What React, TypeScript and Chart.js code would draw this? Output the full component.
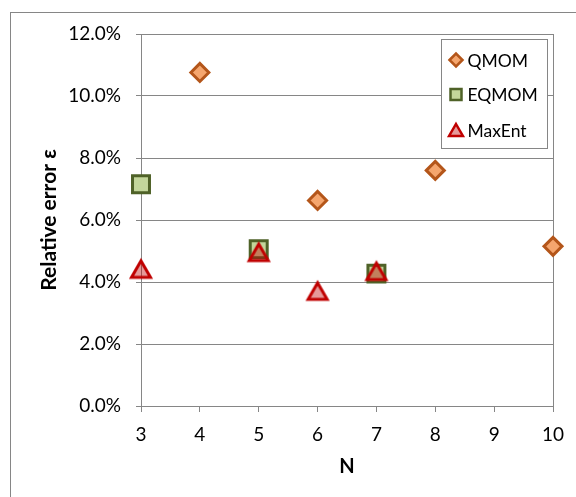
import React, { useEffect, useRef } from 'react';
import { Chart, registerables } from 'chart.js';

Chart.register(...registerables);

// ---- data ----
const seriesNames = ['QMOM', 'EQMOM', 'MaxEnt'];
const qmomN = [4, 6, 8, 10];
const qmomErr = [10.76, 6.63, 7.6, 5.15];
const eqmomN = [3, 5, 7];
const eqmomErr = [7.15, 5.06, 4.27];
const maxentN = [3, 5, 6, 7];
const maxentErr = [4.44, 4.98, 3.73, 4.37];
const xTickValues = [3, 4, 5, 6, 7, 8, 9, 10];
const yTickValues = [0, 2, 4, 6, 8, 10, 12];
const xTitle = 'N';
const yTitle = 'Relative error ε';

const GRID = '#868686';
const FONT = 'Lato';

const styles = [
  { pointStyle: 'rectRot', radius: 9, bg: '#F5A66E', border: '#B4561A' },
  { pointStyle: 'rect', radius: 12, bg: '#C3D69B', border: '#4F6228' },
  { pointStyle: 'triangle', radius: 11, bg: 'rgba(192,0,0,0.4)', border: '#C00000' },
];

function toPoints(xs: number[], ys: number[]) {
  return xs.map((x, i) => ({ x, y: ys[i] }));
}

function makeTriangle(bg: string, border: string): HTMLCanvasElement {
  const c = document.createElement('canvas');
  c.width = 26;
  c.height = 26;
  const g = c.getContext('2d')!;
  g.beginPath();
  g.moveTo(13, 5.5);
  g.lineTo(22.5, 22);
  g.lineTo(3.5, 22);
  g.closePath();
  g.fillStyle = bg;
  g.fill();
  g.lineWidth = 3;
  g.lineJoin = 'miter';
  g.strokeStyle = border;
  g.stroke();
  return c;
}

function drawSymbol(ctx: CanvasRenderingContext2D, kind: string, cx: number, cy: number, s: number) {
  ctx.beginPath();
  if (kind === 'rectRot') {
    ctx.moveTo(cx - s, cy);
    ctx.lineTo(cx, cy - s);
    ctx.lineTo(cx + s, cy);
    ctx.lineTo(cx, cy + s);
  } else if (kind === 'rect') {
    ctx.rect(cx - s, cy - s, 2 * s, 2 * s);
  } else {
    const h = s * 1.5;
    const top = cy - h / 2;
    ctx.moveTo(cx, top);
    ctx.lineTo(cx + s * 0.866, top + h);
    ctx.lineTo(cx - s * 0.866, top + h);
  }
  ctx.closePath();
  ctx.fill();
  ctx.stroke();
}

const framePlugin = {
  id: 'frame',
  beforeDraw(chart: any) {
    const ctx = chart.ctx;
    ctx.save();
    ctx.fillStyle = '#ffffff';
    ctx.fillRect(0, 0, chart.width, chart.height);
    ctx.strokeStyle = GRID;
    ctx.lineWidth = 1;
    ctx.strokeRect(10.5, 12.5, chart.width + 20, chart.height + 20);
    ctx.restore();
  },
  beforeDatasetsDraw(chart: any) {
    const { ctx, chartArea } = chart;
    ctx.save();
    ctx.strokeStyle = GRID;
    ctx.lineWidth = 1;
    ctx.strokeRect(chartArea.left + 0.5, chartArea.top + 0.5, chartArea.right - chartArea.left, chartArea.bottom - chartArea.top);
    ctx.restore();
  },
  afterDatasetsDraw(chart: any) {
    const ctx = chart.ctx;
    ctx.save();
    const bx = 441.5, by = 39.5, bw = 106, bh = 109;
    ctx.fillStyle = '#ffffff';
    ctx.fillRect(bx, by, bw, bh);
    ctx.strokeStyle = GRID;
    ctx.lineWidth = 1;
    ctx.strokeRect(bx, by, bw, bh);
    const rows = [60, 94.5, 130];
    chart.data.datasets.forEach((ds: any, i: number) => {
      const st = styles[i];
      ctx.fillStyle = st.bg;
      ctx.strokeStyle = st.border;
      ctx.lineWidth = 2.5;
      ctx.lineJoin = 'miter';
      const size = st.pointStyle === 'rectRot' ? 6.5 : st.pointStyle === 'rect' ? 5.5 : 8;
      drawSymbol(ctx, st.pointStyle, 456, rows[i], size);
      ctx.fillStyle = '#000000';
      ctx.font = `17.5px ${FONT}`;
      ctx.textBaseline = 'middle';
      ctx.textAlign = 'left';
      ctx.fillText(ds.label, 467.5, rows[i] + 1);
    });
    ctx.restore();
  },
};

export default function App() {
  const ref = useRef<HTMLCanvasElement>(null);

  useEffect(() => {
    if (!ref.current) return;
    const datasets = [
      toPoints(qmomN, qmomErr),
      toPoints(eqmomN, eqmomErr),
      toPoints(maxentN, maxentErr),
    ].map((data, i) => ({
      label: seriesNames[i],
      data,
      order: 3 - i,
      clip: false,
      pointStyle: styles[i].pointStyle === 'triangle' ? makeTriangle(styles[i].bg, styles[i].border) : styles[i].pointStyle,
      pointRadius: styles[i].radius,
      pointHoverRadius: styles[i].radius,
      pointBackgroundColor: styles[i].bg,
      pointBorderColor: styles[i].border,
      pointBorderWidth: 3,
      showLine: false,
    }));

    const chart = new Chart(ref.current, {
      type: 'scatter',
      data: { datasets },
      plugins: [framePlugin],
      options: {
        responsive: false,
        animation: false,
        devicePixelRatio: 1,
        layout: { padding: { left: 0, top: 34, right: 23, bottom: 0 } },
        plugins: {
          legend: { display: false },
          tooltip: { enabled: false },
        },
        scales: {
          x: {
            type: 'linear',
            min: 3,
            max: 10,
            afterFit: (s: any) => { s.height = 91; },
            afterBuildTicks: (s: any) => { s.ticks = xTickValues.map((v) => ({ value: v })); },
            ticks: {
              font: { family: FONT, size: 19 },
              color: '#000000',
              padding: 11,
              callback: (v: any) => String(v),
            },
            grid: { drawOnChartArea: false, drawTicks: true, tickLength: 6, color: GRID },
            border: { display: true, color: GRID, width: 1 },
            title: {
              display: true,
              text: xTitle,
              color: '#000000',
              font: { family: FONT, size: 20, weight: 'bold' },
              padding: { top: 0, bottom: 18 },
            },
          },
          y: {
            type: 'linear',
            min: 0,
            max: 12,
            afterFit: (s: any) => { s.width = 141; },
            afterBuildTicks: (s: any) => { s.ticks = yTickValues.map((v) => ({ value: v })); },
            ticks: {
              font: { family: FONT, size: 19 },
              color: '#000000',
              padding: 15,
              callback: (v: any) => Number(v).toFixed(1) + '%',
            },
            grid: { color: GRID, drawTicks: true, tickLength: 5 },
            border: { display: true, color: GRID, width: 1 },
            title: {
              display: true,
              text: yTitle,
              color: '#000000',
              font: { family: FONT, size: 21, weight: 'bold' },
              padding: { top: 37, bottom: 0 },
            },
          },
        },
      },
    } as any);

    return () => chart.destroy();
  }, []);

  return (
    <div style={{ position: 'absolute', left: 0, top: 0, width: 576, height: 497 }}>
      <canvas ref={ref} width={576} height={497} style={{ display: 'block' }} />
    </div>
  );
}
